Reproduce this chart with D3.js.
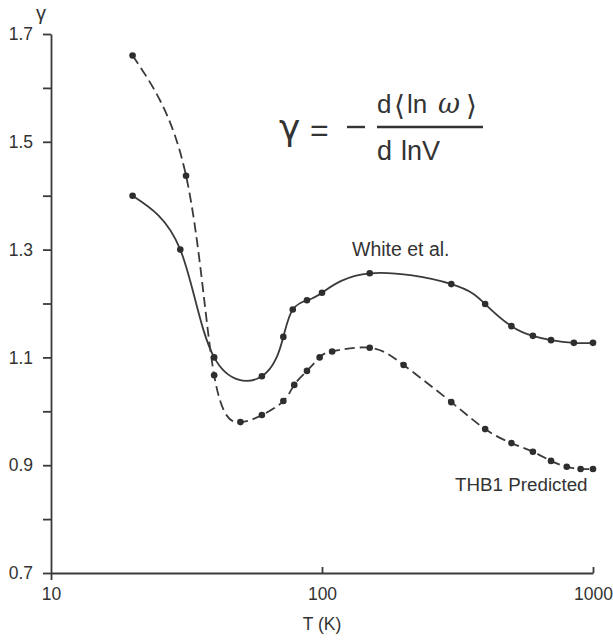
<!DOCTYPE html>
<html>
<head>
<meta charset="utf-8">
<script src="https://cdn.jsdelivr.net/npm/d3@7"></script>
<style>
  html, body { margin: 0; padding: 0; background: #fff; }
  svg { display: block; }
  text { font-family: "Liberation Sans", Arial, sans-serif; fill: #333; }
</style>
</head>
<body>
<svg id="chart" width="613" height="641"></svg>
<script>
// ---- data ----
const whiteT = [20, 30, 40, 60, 72, 78, 88, 100, 150, 300, 400, 500, 600, 700, 850, 1000];
const whiteGamma = [1.40, 1.30, 1.10, 1.065, 1.138, 1.189, 1.206, 1.220, 1.256, 1.236, 1.199, 1.158, 1.140, 1.132, 1.127, 1.127];

const thbT = [20, 31.5, 40, 50, 60, 72, 79, 88, 98, 109, 150, 200, 300, 400, 500, 600, 700, 800, 900, 1000];
const thbGamma = [1.66, 1.437, 1.067, 0.980, 0.993, 1.019, 1.049, 1.075, 1.100, 1.111, 1.118, 1.086, 1.017, 0.967, 0.941, 0.925, 0.908, 0.897, 0.893, 0.893];

const xTicks = [10, 100, 1000];
const yTicks = [0.7, 0.8, 0.9, 1.0, 1.1, 1.2, 1.3, 1.4, 1.5, 1.6, 1.7];
const yLabelTicks = [0.7, 0.9, 1.1, 1.3, 1.5, 1.7];

const seriesLabels = ["White et al.", "THB1 Predicted"];
const xTitle = "T (K)";
const yTitle = "γ";

// ---- layout ----
const svg = d3.select("#chart");
const x = d3.scaleLog().domain([10, 1000]).range([51, 593]);
const y = d3.scaleLinear().domain([0.7, 1.7]).range([573, 34]);
const ink = "#3a3a3a";

// y axis
const yAxis = d3.axisLeft(y)
  .tickValues(yTicks)
  .tickSize(8)
  .tickSizeOuter(0)
  .tickPadding(10)
  .tickFormat(d => yLabelTicks.some(v => Math.abs(v - d) < 1e-9) ? d.toFixed(1) : "");
const gy = svg.append("g").attr("transform", `translate(${x(10)},0)`).call(yAxis);
gy.selectAll("path, line").attr("stroke", ink).attr("stroke-width", 1.8);
gy.selectAll("text").attr("font-size", 17.5).attr("fill", "#333")
  .style("font-family", "'Liberation Sans', Arial, sans-serif");

// x axis
const xAxis = d3.axisBottom(x)
  .tickValues(xTicks)
  .tickSize(-6)
  .tickSizeOuter(0)
  .tickPadding(15)
  .tickFormat(d3.format("d"));
const gx = svg.append("g").attr("transform", `translate(0,${y(0.7)})`).call(xAxis);
gx.selectAll("path, line").attr("stroke", ink).attr("stroke-width", 1.8);
gx.selectAll(".tick line").filter(d => d === 10).attr("y2", 7);
gx.selectAll("text").attr("font-size", 17.5).attr("fill", "#333")
  .style("font-family", "'Liberation Sans', Arial, sans-serif");

// axis titles
svg.append("text").attr("x", 41).attr("y", 20).attr("text-anchor", "middle")
  .attr("font-size", 20).text(yTitle);
svg.append("text").attr("x", x(100)).attr("y", 630).attr("text-anchor", "middle")
  .attr("font-size", 17.5).text(xTitle);

// ---- curves ----
const line = d3.line()
  .x(d => x(d[0]))
  .y(d => y(d[1]))
  .curve(d3.curveNatural);

const whiteData = whiteT.map((t, i) => [t, whiteGamma[i]]);
const thbData = thbT.map((t, i) => [t, thbGamma[i]]);

svg.append("path").datum(whiteData).attr("d", line)
  .attr("fill", "none").attr("stroke", ink).attr("stroke-width", 1.8);
svg.append("path").datum(thbData).attr("d", line)
  .attr("fill", "none").attr("stroke", ink).attr("stroke-width", 1.8)
  .attr("stroke-dasharray", "10,5");

svg.append("g").selectAll("circle").data(whiteData).join("circle")
  .attr("cx", d => x(d[0])).attr("cy", d => y(d[1])).attr("r", 3.3).attr("fill", "#2e2e2e");
svg.append("g").selectAll("circle").data(thbData).join("circle")
  .attr("cx", d => x(d[0])).attr("cy", d => y(d[1])).attr("r", 3.3).attr("fill", "#2e2e2e");

// series labels
svg.append("text").attr("x", 352).attr("y", 256).attr("font-size", 19.5).text(seriesLabels[0]);
svg.append("text").attr("x", 455).attr("y", 491).attr("font-size", 18.8).text(seriesLabels[1]);

// ---- formula ----
const f = svg.append("g");
const ft = (tx, ty, size, s, fam) => {
  const t = f.append("text").attr("x", tx).attr("y", ty).attr("font-size", size).text(s);
  if (fam) t.style("font-family", fam);
  return t;
};
ft(279, 140, 36, "γ", "'DejaVu Sans', sans-serif");
ft(310, 141, 32, "=");
f.append("line").attr("x1", 347).attr("x2", 365).attr("y1", 127).attr("y2", 127)
  .attr("stroke", "#333").attr("stroke-width", 2.4);
f.append("line").attr("x1", 377).attr("x2", 483).attr("y1", 127).attr("y2", 127)
  .attr("stroke", "#333").attr("stroke-width", 2.4);
// numerator
ft(377, 113, 26, "d");
ft(394, 115, 28, "\u27E8", "'DejaVu Sans', sans-serif");
ft(407, 113, 26, "ln");
ft(438, 113, 27, "\u03C9", "'DejaVu Serif', serif").attr("font-style", "italic");
ft(466, 115, 28, "\u27E9", "'DejaVu Sans', sans-serif");
// denominator
ft(377, 160, 27, "d");
ft(401, 160, 27, "lnV");
</script>
</body>
</html>
